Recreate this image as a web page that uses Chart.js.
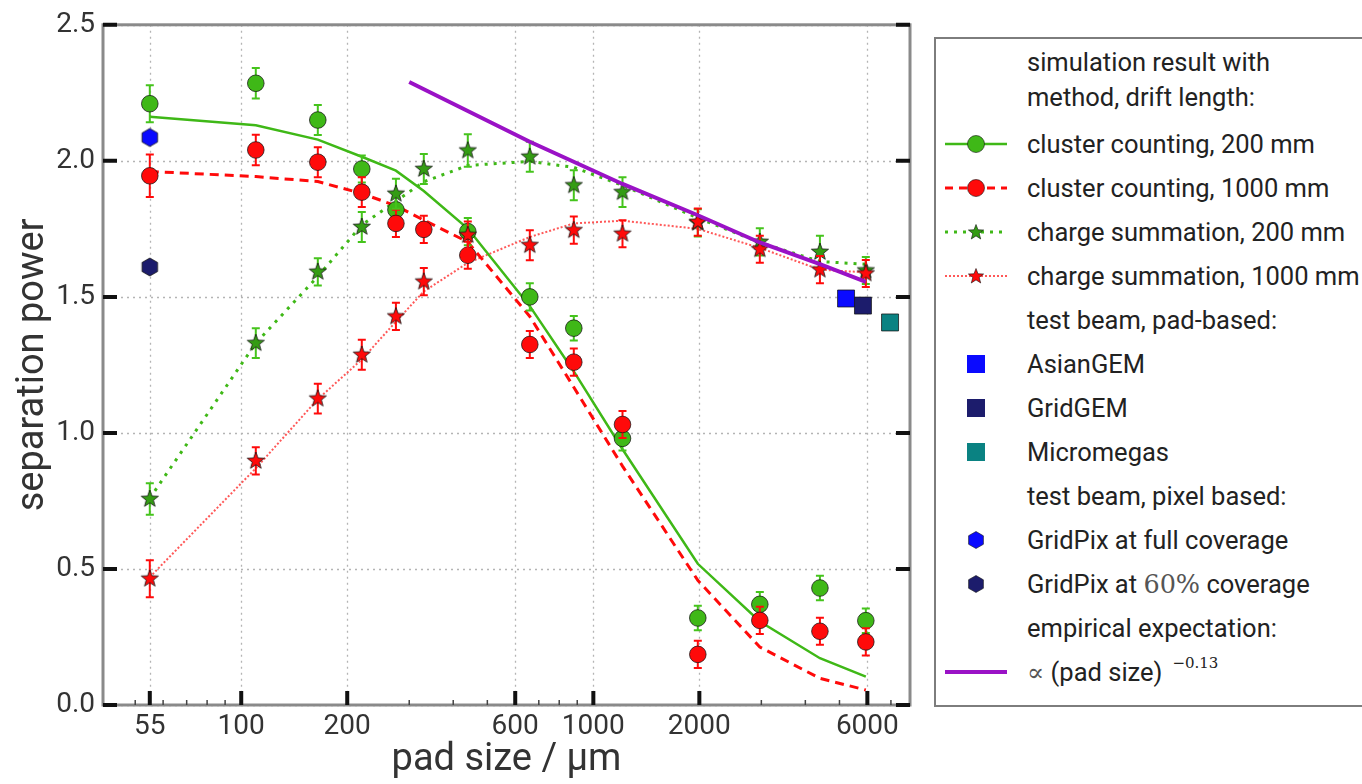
<!DOCTYPE html>
<html lang="en">
<head>
  <meta charset="UTF-8">
  <meta name="viewport" content="width=device-width, initial-scale=1.0">
  <title>Separation power vs pad size</title>
  <script src="https://cdn.jsdelivr.net/npm/chart.js"></script>
  <style>
    body {
      margin: 0;
      background: #fff;
      font-family: Roboto, "DejaVu Sans", sans-serif;
    }

    #wrap {
      position: relative;
      width: 1362px;
      height: 784px;
      overflow: hidden;
    }

    #chart {
      position: absolute;
      left: 0;
      top: 0;
    }

    #legend {
      position: absolute;
      left: 934px;
      top: 37px;
      width: 470px;
      height: 666px;
      border: 2px solid #7d7d7d;
      background: #fff;
      color: #222;
      font-size: 25.5px;
    }

    #legend .head {
      height: 83px;
      box-sizing: border-box;
      padding: 6px 0 0 91px;
      line-height: 35px;
    }

    #legend .row {
      display: flex;
      align-items: center;
      height: 44px;
      white-space: nowrap;
    }

    #legend .row svg {
      margin-left: 9px;
      width: 62px;
      height: 24px;
      flex: none;
    }

    #legend .row .t {
      margin-left: 20px;
    }

    .math {
      font-family: "DejaVu Serif", "Liberation Serif", serif;
      color: #555;
    }

    .exp {
      font-family: "DejaVu Serif", "Liberation Serif", serif;
      font-size: 15px;
      position: relative;
      top: -13px;
      margin-left: 10px;
    }
  </style>
</head>
<body>
<div id="wrap">
  <canvas id="chart" width="1362" height="784"></canvas>
  <div id="legend">
    <div class="head">simulation result with<br>method, drift length:</div>
    <div class="row"><svg data-key="cc200"></svg><span class="t">cluster counting, 200 mm</span></div>
    <div class="row"><svg data-key="cc1000"></svg><span class="t">cluster counting, 1000 mm</span></div>
    <div class="row"><svg data-key="cs200"></svg><span class="t">charge summation, 200 mm</span></div>
    <div class="row"><svg data-key="cs1000"></svg><span class="t">charge summation, 1000 mm</span></div>
    <div class="row"><svg></svg><span class="t">test beam, pad-based:</span></div>
    <div class="row"><svg data-key="asian"></svg><span class="t">AsianGEM</span></div>
    <div class="row"><svg data-key="gridgem"></svg><span class="t">GridGEM</span></div>
    <div class="row"><svg data-key="micro"></svg><span class="t">Micromegas</span></div>
    <div class="row"><svg></svg><span class="t">test beam, pixel based:</span></div>
    <div class="row"><svg data-key="gpFull"></svg><span class="t">GridPix at full coverage</span></div>
    <div class="row"><svg data-key="gp60"></svg><span class="t">GridPix at <span class="math">60%</span> coverage</span></div>
    <div class="row"><svg></svg><span class="t">empirical expectation:</span></div>
    <div class="row"><svg data-key="emp"></svg><span class="t"><span class="math">∝</span> (pad size)<span class="exp">−0.13</span></span></div>
  </div>
</div>

<script>
    // pad sizes (µm) of the simulated points
    const padSize = [55, 110, 165, 220, 275, 330, 440, 660, 880, 1210, 1980, 2970, 4400, 5940];

    // simulation points and their errors
    const clusterCount200 = [2.21, 2.285, 2.15, 1.97, 1.82, null, 1.74, 1.50, 1.385, 0.98, 0.32, 0.37, 0.43, 0.31];
    const clusterCount200Err = [0.068, 0.056, 0.055, 0.05, 0.05, null, 0.05, 0.05, 0.045, 0.045, 0.045, 0.045, 0.045, 0.045];
    const clusterCount1000 = [1.945, 2.04, 1.995, 1.885, 1.77, 1.748, 1.653, 1.325, 1.26, 1.031, 0.186, 0.311, 0.271, 0.232];
    const clusterCount1000Err = [0.078, 0.056, 0.055, 0.055, 0.05, 0.05, 0.05, 0.05, 0.05, 0.05, 0.05, 0.05, 0.05, 0.05];
    const chargeSum200 = [0.757, 1.33, 1.592, 1.757, 1.879, 1.97, 2.038, 2.015, 1.91, 1.885, 1.772, 1.702, 1.665, 1.597];
    const chargeSum200Err = [0.058, 0.055, 0.05, 0.055, 0.055, 0.055, 0.06, 0.055, 0.055, 0.055, 0.05, 0.05, 0.06, 0.05];
    const chargeSum1000 = [0.464, 0.897, 1.126, 1.287, 1.428, 1.556, 1.727, 1.69, 1.745, 1.732, 1.775, 1.675, 1.60, 1.586];
    const chargeSum1000Err = [0.068, 0.05, 0.055, 0.055, 0.05, 0.05, 0.05, 0.055, 0.05, 0.05, 0.05, 0.05, 0.05, 0.05];

    // fitted curves through the same pad sizes
    const fitCluster200 = [2.162, 2.131, 2.078, 2.015, 1.964, 1.889, 1.751, 1.466, 1.226, 0.94, 0.519, 0.307, 0.172, 0.104];
    const fitCluster1000 = [1.961, 1.942, 1.924, 1.88, 1.835, 1.782, 1.702, 1.428, 1.168, 0.878, 0.458, 0.213, 0.098, 0.055];
    const fitCharge200 = [0.76, 1.33, 1.575, 1.764, 1.852, 1.923, 1.983, 1.998, 1.976, 1.91, 1.79, 1.70, 1.63, 1.62];
    const fitCharge1000 = [0.47, 0.87, 1.124, 1.27, 1.409, 1.52, 1.625, 1.72, 1.77, 1.78, 1.75, 1.68, 1.60, 1.59];

    // empirical expectation (pad size)^-0.13
    const empiricalX = [300, 660, 1210, 1980, 2970, 4400, 5940];
    const empiricalY = [2.29, 2.07, 1.915, 1.80, 1.70, 1.62, 1.555];

    // test beam results
    const asianGemX = [5220], asianGemY = [1.494];
    const gridGemX = [5830], gridGemY = [1.468];
    const micromegasX = [6960], micromegasY = [1.406];
    const gridPixFullX = [55], gridPixFullY = [2.086];
    const gridPix60X = [55], gridPix60Y = [1.61];

    // axes
    const xTickValues = [55, 100, 200, 600, 1000, 2000, 6000];
    const xMinorTicks = [50, 60, 70, 80, 90, 300, 400, 500, 700, 800, 900, 3000, 4000, 5000, 7000];
    const yTickValues = [0, 0.5, 1.0, 1.5, 2.0, 2.5];
    const X_MIN = 40.5, X_MAX = 7930;
    const Y_MIN = 0, Y_MAX = 2.5;

    const FONT = 'Roboto, "DejaVu Sans", sans-serif';
    const GREEN = '#3fb817';
    const GREEN_STAR = '#349c14';
    const RED = '#ff0a0a';
    const RED_DOT = 'rgba(255,70,70,0.9)';
    const PURPLE = '#9a12c6';
    const BLUE = '#0a0aff';
    const NAVY = '#1c1c6c';
    const TEAL = '#0a8282';

    function pts(xs, ys) {
        return xs.map((x, i) => ({ x: x, y: ys[i] }));
    }

    function starPoints(cx, cy, r) {
        const p = [];
        for (let k = 0; k < 10; k++) {
            const rad = k % 2 ? r * 0.42 : r;
            const ang = -Math.PI / 2 + k * Math.PI / 5;
            p.push([cx + rad * Math.cos(ang), cy + rad * Math.sin(ang)]);
        }
        return p;
    }

    function hexPoints(cx, cy, r) {
        const p = [];
        for (let k = 0; k < 6; k++) {
            const ang = -Math.PI / 2 + k * Math.PI / 3;
            p.push([cx + r * Math.cos(ang), cy + r * Math.sin(ang)]);
        }
        return p;
    }

    function markerImage(shape, fill, r) {
        const c = document.createElement('canvas');
        const s = Math.ceil(r * 2 + 4);
        c.width = c.height = s;
        const g = c.getContext('2d');
        const list = shape === 'star' ? starPoints(s / 2, s / 2, r) : hexPoints(s / 2, s / 2, r);
        g.beginPath();
        list.forEach(p => g.lineTo(p[0], p[1]));
        g.closePath();
        g.fillStyle = fill;
        g.fill();
        g.strokeStyle = 'rgba(20,20,20,0.8)';
        g.lineWidth = 1;
        g.stroke();
        return c;
    }

    const greenStar = markerImage('star', GREEN_STAR, 9);
    const redStar = markerImage('star', RED, 9);

    function fitLine(label, ys, color, width, dash, order) {
        return {
            label: label,
            data: pts(padSize, ys),
            showLine: true,
            borderColor: color,
            borderWidth: width,
            borderDash: dash,
            pointRadius: 0,
            fill: false,
            tension: 0,
            order: order
        };
    }

    function markers(label, xs, ys, errs, style, color, radius, errColor, order) {
        return {
            label: label,
            data: pts(xs, ys),
            errors: errs,
            errorColor: errColor,
            showLine: false,
            pointStyle: style,
            pointRadius: radius,
            backgroundColor: color,
            borderColor: 'rgba(20,20,20,0.75)',
            borderWidth: 1,
            order: order
        };
    }

    const datasets = [
        {
            label: 'empirical expectation',
            data: pts(empiricalX, empiricalY),
            showLine: true,
            borderColor: PURPLE,
            borderWidth: 4,
            pointRadius: 0,
            order: 0
        },
        markers('AsianGEM', asianGemX, asianGemY, null, 'rect', BLUE, 12, null, 1),
        markers('GridGEM', gridGemX, gridGemY, null, 'rect', NAVY, 12, null, 1),
        markers('Micromegas', micromegasX, micromegasY, null, 'rect', TEAL, 12, null, 1),
        markers('GridPix full', gridPixFullX, gridPixFullY, null, markerImage('hex', BLUE, 9), BLUE, 9, null, 1),
        markers('GridPix 60%', gridPix60X, gridPix60Y, null, markerImage('hex', NAVY, 9), NAVY, 9, null, 1),
        markers('charge summation, 1000 mm', padSize, chargeSum1000, chargeSum1000Err, redStar, RED, 9, RED, 2),
        markers('charge summation, 200 mm', padSize, chargeSum200, chargeSum200Err, greenStar, GREEN_STAR, 9, '#45c41c', 3),
        markers('cluster counting, 1000 mm', padSize, clusterCount1000, clusterCount1000Err, 'circle', RED, 8.3, RED, 4),
        markers('cluster counting, 200 mm', padSize, clusterCount200, clusterCount200Err, 'circle', GREEN, 8.3, '#45c41c', 5),
        fitLine('fit cc 200', fitCluster200, GREEN, 2.5, [], 6),
        fitLine('fit cc 1000', fitCluster1000, RED, 3, [9, 6], 7),
        fitLine('fit cs 200', fitCharge200, GREEN, 3, [3, 6], 8),
        fitLine('fit cs 1000', fitCharge1000, RED_DOT, 2, [2, 2], 9)
    ];

    //grid, frame, tick marks and error bars
    const framePlugin = {
        id: 'frame',
        beforeDatasetsDraw(chart) {
            const { ctx, chartArea: a, scales: { x, y } } = chart;
            ctx.save();
            ctx.strokeStyle = '#b4b4b4';
            ctx.lineWidth = 1.3;
            ctx.setLineDash([2, 4]);
            ctx.beginPath();
            xTickValues.forEach(v => {
                const px = Math.round(x.getPixelForValue(v)) + 0.5;
                ctx.moveTo(px, a.top);
                ctx.lineTo(px, a.bottom);
            });
            yTickValues.forEach(v => {
                const py = Math.round(y.getPixelForValue(v)) + 0.5;
                ctx.moveTo(a.left, py);
                ctx.lineTo(a.right, py);
            });
            ctx.stroke();
            ctx.restore();
        },
        beforeDatasetDraw(chart, args) {
            const ds = chart.data.datasets[args.index];
            if (!ds.errors) return;
            const { ctx, scales: { x, y } } = chart;
            ctx.save();
            ctx.strokeStyle = ds.errorColor;
            ctx.lineWidth = 2;
            ds.data.forEach((p, i) => {
                if (p.y === null || ds.errors[i] == null) return;
                const px = x.getPixelForValue(p.x);
                const lo = y.getPixelForValue(p.y - ds.errors[i]);
                const hi = y.getPixelForValue(p.y + ds.errors[i]);
                ctx.beginPath();
                ctx.moveTo(px, lo);
                ctx.lineTo(px, hi);
                ctx.moveTo(px - 4, lo);
                ctx.lineTo(px + 4, lo);
                ctx.moveTo(px - 4, hi);
                ctx.lineTo(px + 4, hi);
                ctx.stroke();
            });
            ctx.restore();
        },
        afterDatasetsDraw(chart) {
            const { ctx, chartArea: a, scales: { x, y } } = chart;
            ctx.save();
            ctx.strokeStyle = '#8a8a8a';
            ctx.lineWidth = 3;
            ctx.strokeRect(a.left, a.top, a.right - a.left, a.bottom - a.top);

            ctx.strokeStyle = '#111';
            ctx.lineWidth = 4;
            ctx.beginPath();
            yTickValues.forEach(v => {
                const py = y.getPixelForValue(v);
                ctx.moveTo(a.left, py);
                ctx.lineTo(a.left + 14, py);
                ctx.moveTo(a.right, py);
                ctx.lineTo(a.right - 14, py);
            });
            xTickValues.forEach(v => {
                const px = x.getPixelForValue(v);
                ctx.moveTo(px, a.bottom);
                ctx.lineTo(px, a.bottom - 14);
            });
            ctx.stroke();

            ctx.lineWidth = 1.5;
            ctx.strokeStyle = '#444';
            ctx.beginPath();
            xMinorTicks.forEach(v => {
                const px = x.getPixelForValue(v);
                ctx.moveTo(px, a.bottom);
                ctx.lineTo(px, a.bottom - 5);
            });
            ctx.stroke();
            ctx.restore();
        }
    };

    new Chart(document.getElementById('chart'), {
        type: 'scatter',
        data: { datasets: datasets },
        options: {
            responsive: false,
            animation: false,
            devicePixelRatio: 1,
            layout: { padding: { left: 0, right: 452, top: 22, bottom: 0 } },
            plugins: {
                legend: { display: false },
                tooltip: { enabled: false }
            },
            scales: {
                x: {
                    type: 'logarithmic',
                    position: 'bottom',
                    min: X_MIN,
                    max: X_MAX,
                    afterBuildTicks: s => {
                        s.ticks = xTickValues.map(v => ({ value: v }));
                        s.min = X_MIN;
                        s.max = X_MAX;
                    },
                    afterFit: s => { s.height = 79; },
                    grid: { display: false, drawTicks: false },
                    border: { display: false },
                    ticks: {
                        autoSkip: false,
                        maxRotation: 0,
                        minRotation: 0,
                        padding: 5,
                        color: '#333',
                        font: { family: FONT, size: 28 },
                        callback: v => String(v)
                    },
                    title: {
                        display: true,
                        text: 'pad size / µm',
                        color: '#333',
                        font: { family: FONT, size: 38 },
                        padding: { top: 0, bottom: 1 }
                    }
                },
                y: {
                    position: 'left',
                    min: Y_MIN,
                    max: Y_MAX,
                    afterBuildTicks: s => {
                        s.ticks = yTickValues.map(v => ({ value: v }));
                        s.min = Y_MIN;
                        s.max = Y_MAX;
                    },
                    afterFit: s => { s.width = 103; },
                    grid: { display: false, drawTicks: false },
                    border: { display: false },
                    ticks: {
                        padding: 8,
                        color: '#333',
                        font: { family: FONT, size: 28 },
                        callback: v => v.toFixed(1)
                    },
                    title: {
                        display: true,
                        text: 'separation power',
                        color: '#333',
                        font: { family: FONT, size: 38 },
                        padding: { top: 11, bottom: 0 }
                    }
                }
            }
        },
        plugins: [framePlugin]
    });

    // legend symbols
    const legendSymbols = {
        cc200: { line: GREEN, width: 2.5, dash: '', marker: 'circle', fill: GREEN },
        cc1000: { line: RED, width: 3, dash: '8 6', marker: 'circle', fill: RED },
        cs200: { line: GREEN, width: 3, dash: '3 6', marker: 'star', fill: GREEN_STAR },
        cs1000: { line: RED_DOT, width: 2, dash: '2 2', marker: 'star', fill: RED },
        asian: { marker: 'square', fill: BLUE },
        gridgem: { marker: 'square', fill: NAVY },
        micro: { marker: 'square', fill: TEAL },
        gpFull: { marker: 'hex', fill: BLUE },
        gp60: { marker: 'hex', fill: NAVY },
        emp: { line: PURPLE, width: 4, dash: '' }
    };

    document.querySelectorAll('#legend svg[data-key]').forEach(svg => {
        const s = legendSymbols[svg.dataset.key];
        const ns = 'http://www.w3.org/2000/svg';
        svg.setAttribute('viewBox', '0 0 62 24');
        if (s.line) {
            const l = document.createElementNS(ns, 'line');
            l.setAttribute('x1', 0); l.setAttribute('x2', 62);
            l.setAttribute('y1', 12); l.setAttribute('y2', 12);
            l.setAttribute('stroke', s.line);
            l.setAttribute('stroke-width', s.width);
            if (s.dash) l.setAttribute('stroke-dasharray', s.dash);
            svg.appendChild(l);
        }
        let m = null;
        if (s.marker === 'circle') {
            m = document.createElementNS(ns, 'circle');
            m.setAttribute('cx', 31); m.setAttribute('cy', 12); m.setAttribute('r', 8.5);
        } else if (s.marker === 'square') {
            m = document.createElementNS(ns, 'rect');
            m.setAttribute('x', 22); m.setAttribute('y', 3);
            m.setAttribute('width', 18); m.setAttribute('height', 18);
        } else if (s.marker === 'star' || s.marker === 'hex') {
            m = document.createElementNS(ns, 'polygon');
            const list = s.marker === 'star' ? starPoints(31, 12.5, 8) : hexPoints(31, 12, 8.5);
            m.setAttribute('points', list.map(p => p[0].toFixed(1) + ',' + p[1].toFixed(1)).join(' '));
        }
        if (m) {
            m.setAttribute('fill', s.fill);
            m.setAttribute('stroke', 'rgba(20,20,20,0.6)');
            m.setAttribute('stroke-width', s.marker === 'square' ? 0 : 1);
            svg.appendChild(m);
        }
    });
</script>
</body>
</html>
